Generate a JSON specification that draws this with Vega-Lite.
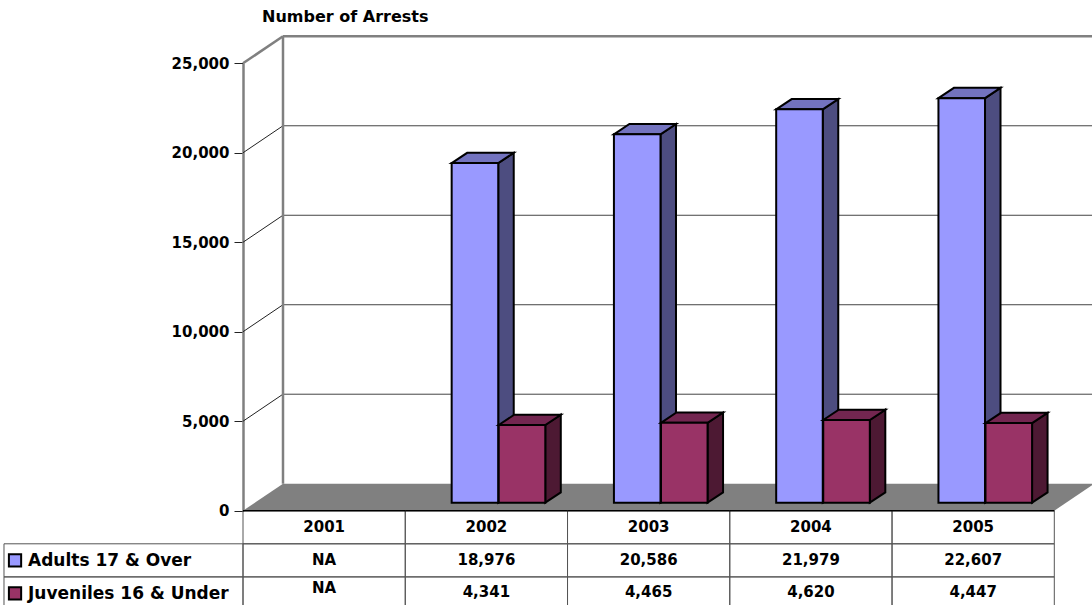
{
"$schema":"https://vega.github.io/schema/vega-lite/v6.json",
"width":1092,"height":605,"padding":0,"autosize":{"type":"none"},
"background":"white",
"config":{"view":{"stroke":null},"text":{"font":"DejaVu Sans","fontWeight":"bold","fontSize":15,"color":"black"}},
"title":{"text":"Number of Arrests","anchor":"start","frame":"group","offset":-25,"dx":262,"font":"DejaVu Sans","fontWeight":"bold","fontSize":16,"color":"black"},
"data":{"name":"arrests","values":[
{"year":2001,"series":"Adults 17 & Over","value":null},
{"year":2002,"series":"Adults 17 & Over","value":18976},
{"year":2003,"series":"Adults 17 & Over","value":20586},
{"year":2004,"series":"Adults 17 & Over","value":21979},
{"year":2005,"series":"Adults 17 & Over","value":22607},
{"year":2001,"series":"Juveniles 16 & Under","value":null},
{"year":2002,"series":"Juveniles 16 & Under","value":4341},
{"year":2003,"series":"Juveniles 16 & Under","value":4465},
{"year":2004,"series":"Juveniles 16 & Under","value":4620},
{"year":2005,"series":"Juveniles 16 & Under","value":4447}
]},
"resolve":{"scale":{"y":"independent"},"axis":{"y":"independent"}},
"layer":[
{"data":{"values":[{"value":0},{"value":5000},{"value":10000},{"value":15000},{"value":20000},{"value":25000}]},
 "transform":[{"calculate":"datum.value+1509","as":"back"}],
 "layer":[
 {"mark":{"type":"area","fill":"#808080"},
  "transform":[{"filter":"datum.value==0"},
   {"calculate":"[2000.5,2000.7465,2005.5,2005.7465]","as":"xs"},
   {"calculate":"[0,1509,1509,1509]","as":"ys"},
   {"calculate":"[0,0,0,1509]","as":"y2s"},
   {"flatten":["xs","ys","y2s"]}],
  "encoding":{
   "x":{"field":"xs","type":"quantitative","axis":null,"scale":{"domain":[2000.5,2005.5],"range":[243,1054.3],"nice":false,"zero":false}},
   "y":{"field":"ys","type":"quantitative","title":null,"scale":{"domain":[0,25000],"range":[510.7,63.3],"nice":false,"zero":false},
    "axis":{"values":[0,5000,10000,15000,20000,25000],"format":",d","offset":-243,"grid":false,"tickSize":9,"tickColor":"#222","tickWidth":1,"domainColor":"#808080","domainWidth":2.5,"labelPadding":5,"labelFont":"DejaVu Sans","labelFontWeight":"bold","labelFontSize":15,"labelColor":"black","title":null}},
   "y2":{"field":"y2s"}}},
 {"mark":{"type":"rule","stroke":"#444","strokeWidth":1},
  "transform":[{"filter":"datum.value>0 && datum.value<25000"}],
  "encoding":{"x":{"datum":2000.7465,"type":"quantitative"},"x2":{"datum":2005.7465},"y":{"field":"back","type":"quantitative"}}},
 {"mark":{"type":"rule","stroke":"#222","strokeWidth":1},
  "transform":[{"filter":"datum.value>0 && datum.value<25000"}],
  "encoding":{"x":{"datum":2000.5,"type":"quantitative"},"x2":{"datum":2000.7465},"y":{"field":"value","type":"quantitative"},"y2":{"field":"back"}}},
 {"mark":{"type":"rule","stroke":"#808080","strokeWidth":2.5},
  "transform":[{"filter":"datum.value==25000"}],
  "encoding":{"x":{"datum":2000.7465,"type":"quantitative"},"x2":{"datum":2005.7465},"y":{"field":"back","type":"quantitative"}}},
 {"mark":{"type":"rule","stroke":"#808080","strokeWidth":2.5},
  "transform":[{"filter":"datum.value==25000"}],
  "encoding":{"x":{"datum":2000.5,"type":"quantitative"},"x2":{"datum":2000.7465},"y":{"field":"value","type":"quantitative"},"y2":{"field":"back"}}},
 {"mark":{"type":"rule","stroke":"#808080","strokeWidth":2.5},
  "transform":[{"filter":"datum.value==25000"}],
  "encoding":{"x":{"datum":2000.7465,"type":"quantitative"},"y":{"field":"back","type":"quantitative"},"y2":{"datum":1509}}}
 ]},
{"transform":[{"filter":"datum.value!=null"},
  {"calculate":"datum.year+(datum.series=='Adults 17 & Over'?-0.214:0.076)","as":"l"},
  {"calculate":"datum.l+0.287","as":"r"},
  {"calculate":"[datum.r,datum.r+0.0955]","as":"sx"},
  {"calculate":"[datum.value,datum.value+575]","as":"sy"},
  {"calculate":"[0,575]","as":"sy2"},
  {"calculate":"[datum.l,datum.l+0.0955,datum.r,datum.r+0.0955]","as":"tx"},
  {"calculate":"[datum.value,datum.value+575,datum.value+575,datum.value+575]","as":"ty"},
  {"calculate":"[datum.value,datum.value,datum.value,datum.value+575]","as":"ty2"}],
 "layer":[
 {"mark":{"type":"area","fill":"#4D4D80","stroke":"black","strokeWidth":2},
  "transform":[{"filter":"datum.series=='Adults 17 & Over'"},{"flatten":["sx","sy","sy2"]}],
  "encoding":{"x":{"field":"sx","type":"quantitative"},"y":{"field":"sy","type":"quantitative","axis":null,"scale":{"domain":[0,25000],"range":[502.7,55.3],"nice":false,"zero":false}},"y2":{"field":"sy2"},"detail":{"field":"year"}}},
 {"mark":{"type":"area","fill":"#7373BF","stroke":"black","strokeWidth":2},
  "transform":[{"filter":"datum.series=='Adults 17 & Over'"},{"flatten":["tx","ty","ty2"]}],
  "encoding":{"x":{"field":"tx","type":"quantitative"},"y":{"field":"ty","type":"quantitative","axis":null},"y2":{"field":"ty2"},"detail":{"field":"year"}}},
 {"mark":{"type":"rect","fill":"#9999FF","stroke":"black","strokeWidth":2},
  "transform":[{"filter":"datum.series=='Adults 17 & Over'"}],
  "encoding":{"x":{"field":"l","type":"quantitative"},"x2":{"field":"r"},"y":{"field":"value","type":"quantitative","axis":null},"y2":{"datum":0}}},
 {"mark":{"type":"area","fill":"#4D1933","stroke":"black","strokeWidth":2},
  "transform":[{"filter":"datum.series!='Adults 17 & Over'"},{"flatten":["sx","sy","sy2"]}],
  "encoding":{"x":{"field":"sx","type":"quantitative"},"y":{"field":"sy","type":"quantitative","axis":null},"y2":{"field":"sy2"},"detail":{"field":"year"}}},
 {"mark":{"type":"area","fill":"#732650","stroke":"black","strokeWidth":2},
  "transform":[{"filter":"datum.series!='Adults 17 & Over'"},{"flatten":["tx","ty","ty2"]}],
  "encoding":{"x":{"field":"tx","type":"quantitative"},"y":{"field":"ty","type":"quantitative","axis":null},"y2":{"field":"ty2"},"detail":{"field":"year"}}},
 {"mark":{"type":"rect","fill":"#993366","stroke":"black","strokeWidth":2},
  "transform":[{"filter":"datum.series!='Adults 17 & Over'"}],
  "encoding":{"x":{"field":"l","type":"quantitative"},"x2":{"field":"r"},"y":{"field":"value","type":"quantitative","axis":null},"y2":{"datum":0}}}
 ]},
{"transform":[
  {"calculate":"datum.year-0.5","as":"xl"},{"calculate":"datum.year+0.5","as":"xr"},
  {"calculate":"'Year'","as":"header"},
  {"calculate":"datum.value==null?'NA':format(datum.value,',d')","as":"label"}],
 "layer":[
 {"mark":{"type":"rect","filled":false,"stroke":"#555","strokeWidth":1},
  "encoding":{"x":{"field":"xl","type":"quantitative"},"x2":{"field":"xr"},
   "y":{"field":"series","type":"nominal","axis":null,"scale":{"type":"band","domain":["Year","Adults 17 & Over","Juveniles 16 & Under"],"range":[510.7,610],"paddingInner":0,"paddingOuter":0}}}},
 {"mark":{"type":"rect","filled":false,"stroke":"#555","strokeWidth":1},
  "transform":[{"filter":"datum.series=='Adults 17 & Over'"}],
  "encoding":{"x":{"field":"xl","type":"quantitative"},"x2":{"field":"xr"},"y":{"field":"header","type":"nominal","axis":null}}},
 {"mark":{"type":"rect","filled":false,"stroke":"#555","strokeWidth":1},
  "transform":[{"filter":"datum.year==2001"}],
  "encoding":{"x":{"datum":1999.027,"type":"quantitative"},"x2":{"datum":2000.5},"y":{"field":"series","type":"nominal","axis":null}}},
 {"mark":{"type":"rule","stroke":"black","strokeWidth":1.5},
  "transform":[{"filter":"datum.series=='Adults 17 & Over'"}],
  "encoding":{"x":{"field":"xl","type":"quantitative"},"x2":{"field":"xr"},"y":{"field":"header","type":"nominal","axis":null,"bandPosition":0}}},
 {"mark":{"type":"text"},
  "transform":[{"filter":"datum.series=='Adults 17 & Over'"}],
  "encoding":{"x":{"field":"year","type":"quantitative"},"y":{"field":"header","type":"nominal","axis":null},"text":{"field":"year"}}},
 {"mark":{"type":"text"},
  "transform":[{"filter":"datum.series=='Adults 17 & Over'"}],
  "encoding":{"x":{"field":"year","type":"quantitative"},"y":{"field":"series","type":"nominal","axis":null},"text":{"field":"label"}}},
 {"mark":{"type":"text","dy":-1.5},
  "transform":[{"filter":"datum.series!='Adults 17 & Over' && datum.value!=null"}],
  "encoding":{"x":{"field":"year","type":"quantitative"},"y":{"field":"series","type":"nominal","axis":null},"text":{"field":"label"}}},
 {"mark":{"type":"text","dy":-5},
  "transform":[{"filter":"datum.series!='Adults 17 & Over' && datum.value==null"}],
  "encoding":{"x":{"field":"year","type":"quantitative"},"y":{"field":"series","type":"nominal","axis":null},"text":{"field":"label"}}},
 {"mark":{"type":"point","shape":"square","filled":true,"size":150,"stroke":"black","strokeWidth":2,"opacity":1,"fill":"#9999FF"},
  "transform":[{"filter":"datum.year==2001 && datum.series=='Adults 17 & Over'"}],
  "encoding":{"x":{"datum":1999.095,"type":"quantitative"},"y":{"field":"series","type":"nominal","axis":null}}},
 {"mark":{"type":"point","shape":"square","filled":true,"size":150,"stroke":"black","strokeWidth":2,"opacity":1,"fill":"#993366"},
  "transform":[{"filter":"datum.year==2001 && datum.series!='Adults 17 & Over'"}],
  "encoding":{"x":{"datum":1999.095,"type":"quantitative"},"y":{"field":"series","type":"nominal","axis":null}}},
 {"mark":{"type":"text","align":"left","dy":1,"fontSize":17},
  "transform":[{"filter":"datum.year==2001"}],
  "encoding":{"x":{"datum":1999.175,"type":"quantitative"},"y":{"field":"series","type":"nominal","axis":null},"text":{"field":"series"}}}
 ]}
]
}
